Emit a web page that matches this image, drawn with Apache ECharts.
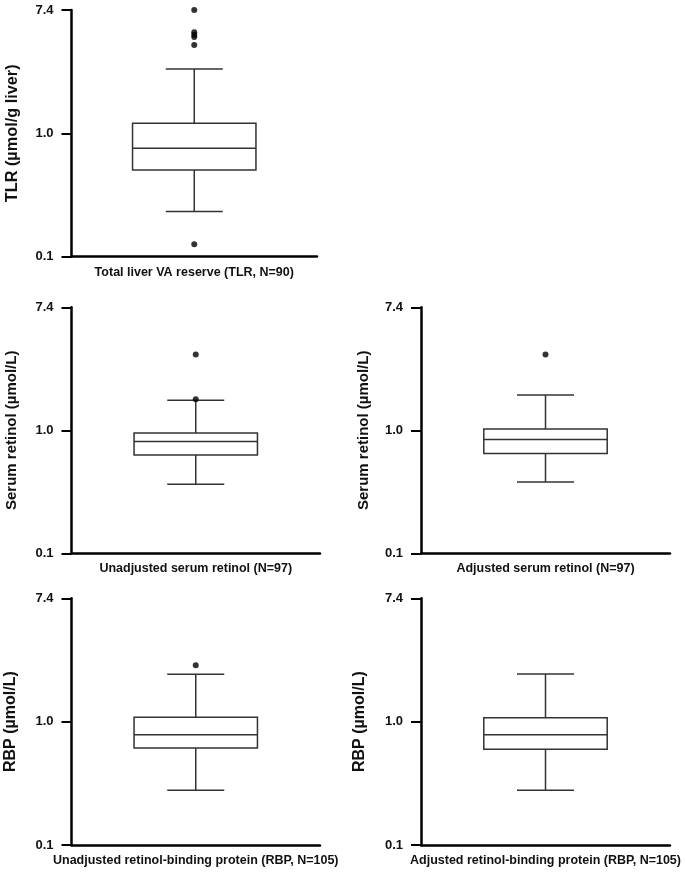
<!DOCTYPE html>
<html>
<head>
<meta charset="utf-8">
<script src="https://cdn.jsdelivr.net/npm/echarts@6/dist/echarts.min.js"></script>
<style>
html,body{margin:0;padding:0;background:#fff;}
#chart{width:685px;height:872px;}
</style>
</head>
<body>
<div id="chart"></div>
<script>
// ---- data (µmol/L or µmol/g liver) ----
const categories = [
  'Total liver VA reserve (TLR, N=90)',
  'Unadjusted serum retinol (N=97)',
  'Adjusted serum retinol (N=97)',
  'Unadjusted retinol-binding protein (RBP, N=105)',
  'Adjusted retinol-binding protein (RBP, N=105)'
];
const yTitles = ['TLR (µmol/g liver)', 'Serum retinol (µmol/L)', 'Serum retinol (µmol/L)', 'RBP (µmol/L)', 'RBP (µmol/L)'];
// [lower whisker, Q1, median, Q3, upper whisker]
const tlrBox = [0.232, 0.504, 0.756, 1.176, 2.84];
const srUnadjBox = [0.365, 0.630, 0.809, 0.952, 1.63];
const srAdjBox = [0.380, 0.649, 0.840, 1.023, 1.776];
const rbpUnadjBox = [0.278, 0.612, 0.784, 1.074, 2.16];
const rbpAdjBox = [0.278, 0.597, 0.784, 1.067, 2.17];
const tlrOutliers = [7.4, 5.15, 4.96, 4.77, 4.19, 0.126];
const srUnadjOutliers = [3.43, 1.66];
const srAdjOutliers = [3.43];
const rbpUnadjOutliers = [2.50];
const rbpAdjOutliers = [];
const tickValues = [0.1, 1.0, 7.4];
const tickLabels = ['0.1', '1.0', '7.4'];

const boxes = [tlrBox, srUnadjBox, srAdjBox, rbpUnadjBox, rbpAdjBox];
const outliers = [tlrOutliers, srUnadjOutliers, srAdjOutliers, rbpUnadjOutliers, rbpAdjOutliers];

// axis scale: log10 below 1.0, log base 7.4 above 1.0 (ticks 0.1, 1.0, 7.4 equally spaced)
function toAxis(v) { return v <= 1 ? Math.log10(v) : Math.log(v) / Math.log(7.4); }
const tickPos = tickValues.map(toAxis);
function fmtTick(val) {
  for (let i = 0; i < tickPos.length; i++) if (Math.abs(tickPos[i] - val) < 1e-6) return tickLabels[i];
  return '';
}

const FONT = "'Liberation Sans', Arial, sans-serif";
const grids = [
  {left: 71.5, top: 10, width: 245.5, height: 246.7},
  {left: 71.5, top: 307.3, width: 248.5, height: 246},
  {left: 421, top: 307.3, width: 249, height: 246},
  {left: 71.5, top: 598.3, width: 248.5, height: 246.7},
  {left: 421, top: 598.3, width: 249, height: 246.7}
];
const nameGaps = [51, 52, 50, 53, 53];
const nameSizes = [16.3, 15, 15, 16, 16];

const xAxes = [], yAxes = [], series = [];
categories.forEach((cat, i) => {
  xAxes.push({
    type: 'category', gridIndex: i, data: [cat],
    axisLine: {onZero: false, lineStyle: {color: '#000', width: 2.5}},
    axisTick: {alignWithLabel: true, length: 8, lineStyle: {color: '#000', width: 2}},
    axisLabel: {color: '#111', fontSize: 12.5, fontWeight: 'bold', fontFamily: FONT, margin: 9},
    splitLine: {show: false}
  });
  yAxes.push({
    type: 'value', gridIndex: i, min: -1, max: 1, interval: 1,
    name: yTitles[i], nameLocation: 'middle', nameGap: nameGaps[i],
    nameTextStyle: {color: '#111', fontSize: nameSizes[i], fontWeight: 'bold', fontFamily: FONT},
    axisLine: {show: true, onZero: false, lineStyle: {color: '#000', width: 2.5}},
    axisTick: {show: true, length: 10, lineStyle: {color: '#000', width: 2}},
    axisLabel: {color: '#111', fontSize: 13, fontWeight: 'bold', fontFamily: FONT, margin: 18, formatter: fmtTick},
    splitLine: {show: false}
  });
  const b = boxes[i].map(toAxis);
  series.push({
    type: 'custom', xAxisIndex: i, yAxisIndex: i,
    encode: {x: 0, y: [1, 2, 3, 4, 5]},
    data: [[0, b[0], b[1], b[2], b[3], b[4]]],
    renderItem: function (params, api) {
      const lo = api.coord([api.value(0), api.value(1)]);
      const q1 = api.coord([api.value(0), api.value(2)]);
      const md = api.coord([api.value(0), api.value(3)]);
      const q3 = api.coord([api.value(0), api.value(4)]);
      const hi = api.coord([api.value(0), api.value(5)]);
      const cx = lo[0];
      const hb = 61.7, hc = 28.5;
      const st = {stroke: '#333', lineWidth: 1.5, fill: null};
      return {
        type: 'group',
        children: [
          {type: 'line', shape: {x1: cx, y1: hi[1], x2: cx, y2: q3[1]}, style: st},
          {type: 'line', shape: {x1: cx, y1: q1[1], x2: cx, y2: lo[1]}, style: st},
          {type: 'line', shape: {x1: cx - hc, y1: hi[1], x2: cx + hc, y2: hi[1]}, style: st},
          {type: 'line', shape: {x1: cx - hc, y1: lo[1], x2: cx + hc, y2: lo[1]}, style: st},
          {type: 'rect', shape: {x: cx - hb, y: q3[1], width: 2 * hb, height: q1[1] - q3[1]}, style: {stroke: '#333', lineWidth: 1.5, fill: '#fff'}},
          {type: 'line', shape: {x1: cx - hb, y1: md[1], x2: cx + hb, y2: md[1]}, style: st}
        ]
      };
    },
    z: 2
  });
  series.push({
    type: 'scatter', xAxisIndex: i, yAxisIndex: i,
    data: outliers[i].map(v => [0, toAxis(v)]),
    symbol: 'circle', symbolSize: 6,
    itemStyle: {color: '#000'},
    z: 3
  });
});

const chart = echarts.init(document.getElementById('chart'), null, {renderer: 'canvas'});
chart.setOption({
  backgroundColor: '#fff',
  animation: false,
  grid: grids,
  xAxis: xAxes,
  yAxis: yAxes,
  series: series
});
</script>
</body>
</html>
